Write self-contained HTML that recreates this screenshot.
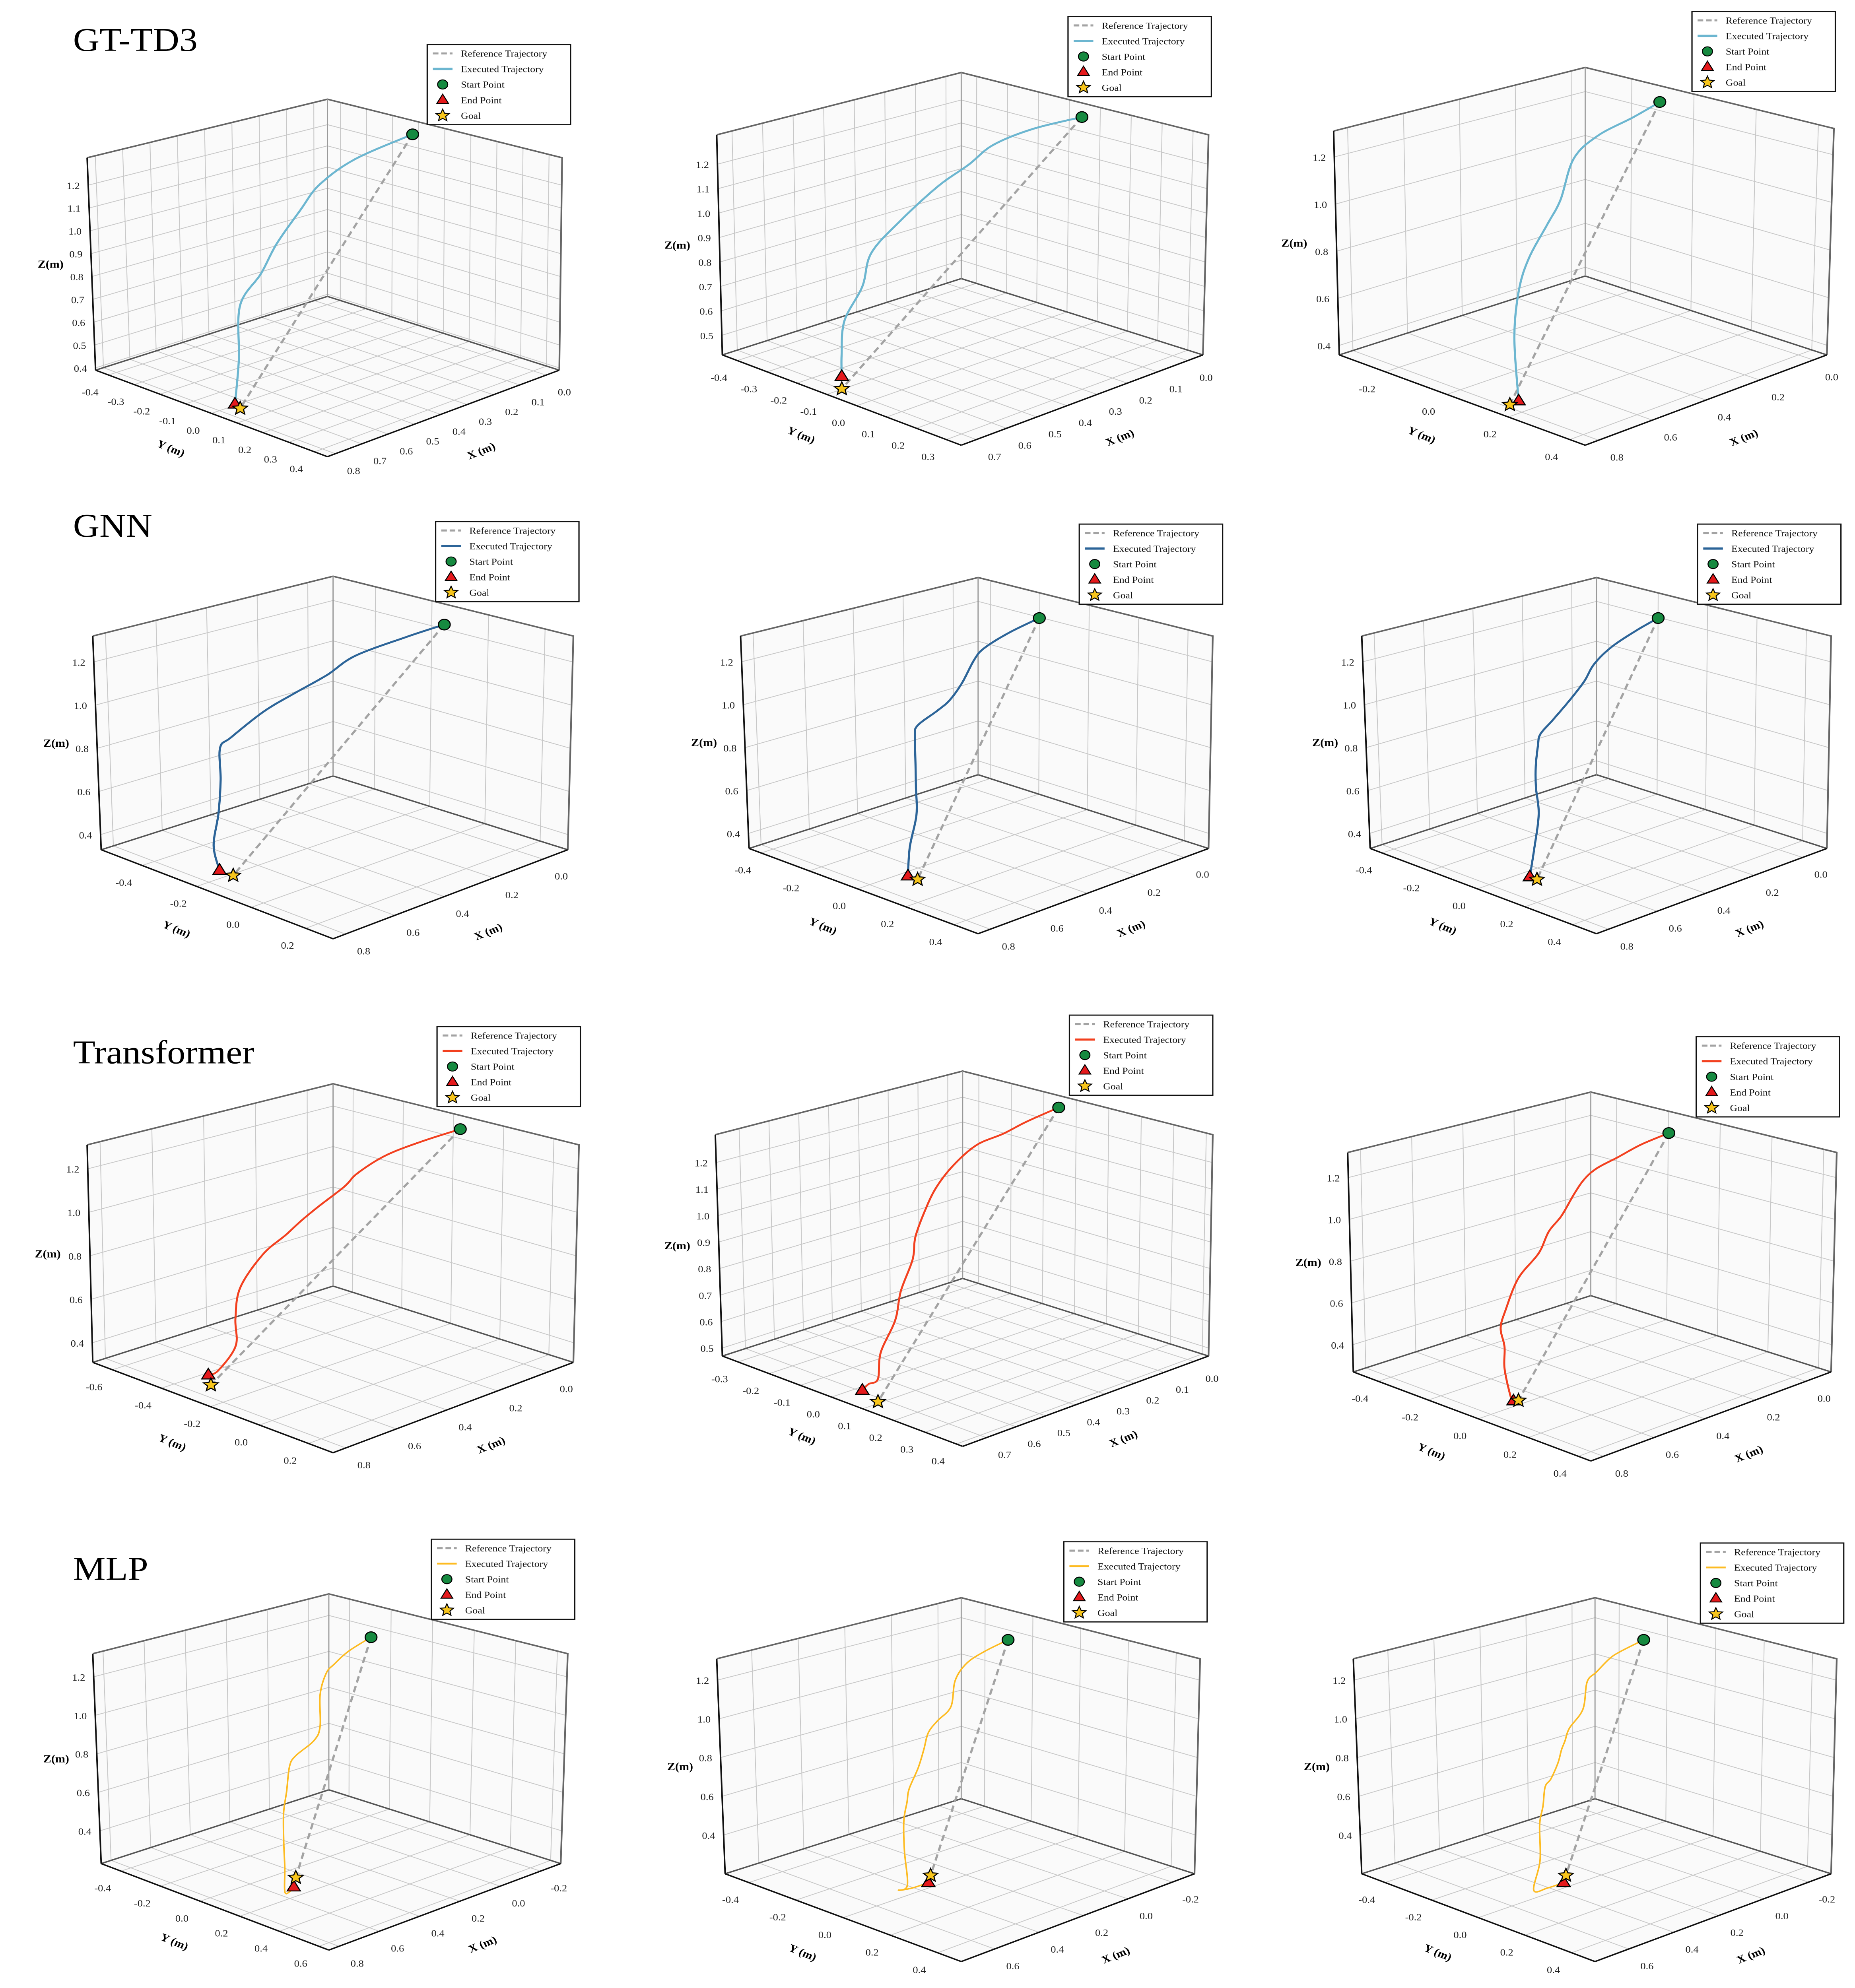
<!DOCTYPE html>
<html><head><meta charset="utf-8"><title>Trajectory comparison</title>
<style>html,body{margin:0;padding:0;background:#fff;width:100%;height:100%;overflow:hidden}
svg{display:block;position:fixed;left:0;top:0;width:100vw;height:100vh}
text{font-family:"Liberation Serif","DejaVu Serif",serif}</style></head>
<body>
<svg id="fig" xmlns="http://www.w3.org/2000/svg" viewBox="0 0 1320 1562.8" preserveAspectRatio="none">
<rect x="0" y="0" width="1320" height="1562.8" fill="#fff"/>
<text x="52" y="40" font-size="26">GT-TD3</text>
<text x="52" y="422" font-size="26">GNN</text>
<text x="52" y="836" font-size="26">Transformer</text>
<text x="52" y="1242" font-size="26">MLP</text>
<g id="plots"></g>
</svg>
<script>
// ---- data ----
const startX = [0.02, 0.01, 0.05, 0.03, 0.07, 0.07, -0.01, 0.02, 0.04, -0.02, -0.06, -0.06];
const startY = [-0.05, 0.0, -0.02, -0.04, -0.03, -0.03, -0.08, 0.01, -0.06, -0.02, -0.07, -0.07];
const startZ = [1.30, 1.30, 1.30, 1.30, 1.30, 1.30, 1.30, 1.30, 1.30, 1.30, 1.30, 1.30];
const goalX = [0.76, 0.71, 0.81, 0.80, 0.76, 0.76, 0.78, 0.76, 0.74, 0.58, 0.41, 0.41];
const goalY = [0.04, -0.09, 0.17, -0.11, 0.16, 0.16, -0.27, 0.13, 0.05, 0.21, 0.05, 0.05];
const goalZ = [0.40, 0.43, 0.38, 0.40, 0.40, 0.40, 0.35, 0.50, 0.33, 0.33, 0.30, 0.30];
const endX = [0.76, 0.70, 0.80, 0.80, 0.76, 0.76, 0.78, 0.76, 0.74, 0.58, 0.41, 0.41];
const endY = [0.02, -0.10, 0.19, -0.16, 0.12, 0.13, -0.28, 0.08, 0.03, 0.20, 0.04, 0.04];
const endZ = [0.41, 0.47, 0.40, 0.40, 0.40, 0.40, 0.39, 0.52, 0.32, 0.28, 0.26, 0.26];
const execX = [
 [0.02,0.26,0.41,0.49,0.59,0.66,0.75,0.76,0.76],
 [0.01,0.15,0.27,0.34,0.43,0.535,0.62,0.65,0.70,0.71,0.70],
 [0.05,0.19,0.35,0.47,0.54,0.61,0.70,0.76,0.79,0.80],
 [0.03,0.17,0.35,0.45,0.57,0.68,0.80,0.80,0.80,0.80,0.80,0.80],
 [0.07,0.23,0.37,0.43,0.50,0.57,0.64,0.74,0.76,0.76,0.76,0.76,0.76,0.76],
 [0.07,0.20,0.33,0.43,0.48,0.57,0.67,0.73,0.75,0.76,0.76,0.75,0.76,0.76],
 [-0.01,0.11,0.22,0.31,0.35,0.43,0.49,0.54,0.61,0.68,0.70,0.70,0.76,0.78],
 [0.02,0.15,0.25,0.35,0.45,0.52,0.57,0.60,0.62,0.66,0.69,0.75,0.76,0.76,0.76],
 [0.04,0.17,0.28,0.37,0.43,0.48,0.54,0.60,0.65,0.74,0.74,0.74,0.74,0.74,0.74,0.74],
 [-0.02,0.15,0.27,0.34,0.39,0.39,0.44,0.58,0.58,0.58,0.58,0.58,0.58,0.58,0.58,0.58],
 [-0.06,0.07,0.18,0.25,0.28,0.36,0.41,0.41,0.41,0.41,0.41,0.41,0.41,0.41,0.45,0.43,0.41],
 [-0.06,0.07,0.14,0.22,0.27,0.31,0.38,0.41,0.41,0.41,0.41,0.41,0.41,0.41,0.41,0.45,0.43,0.41]
];
const execY = [
 [-0.05,-0.02,0.0,0.01,0.02,0.03,0.04,0.04,0.02],
 [0.0,-0.02,-0.03,-0.04,-0.05,-0.07,-0.08,-0.08,-0.09,-0.09,-0.10],
 [-0.02,0.02,0.05,0.08,0.10,0.12,0.14,0.16,0.17,0.19],
 [-0.04,-0.05,-0.07,-0.08,-0.09,-0.10,-0.11,-0.15,-0.15,-0.16,-0.18,-0.16],
 [-0.03,0.01,0.05,0.07,0.09,0.11,0.13,0.15,0.16,0.16,0.16,0.16,0.13,0.12],
 [-0.03,0.01,0.04,0.07,0.08,0.11,0.14,0.15,0.16,0.16,0.16,0.16,0.15,0.13],
 [-0.08,-0.11,-0.14,-0.16,-0.17,-0.19,-0.20,-0.21,-0.23,-0.25,-0.25,-0.25,-0.26,-0.28],
 [0.01,0.03,0.05,0.06,0.08,0.09,0.10,0.10,0.11,0.11,0.12,0.13,0.13,0.10,0.08],
 [-0.06,-0.04,-0.02,-0.01,0.0,0.01,0.02,0.03,0.04,0.05,0.0,-0.02,-0.005,-0.005,0.02,0.03],
 [-0.02,0.04,0.09,0.12,0.14,0.14,0.16,0.21,0.18,0.165,0.15,0.15,0.155,0.155,0.18,0.20],
 [-0.07,-0.04,-0.01,0.01,0.02,0.04,0.05,0.03,0.005,-0.035,-0.045,-0.06,-0.06,-0.05,-0.05,-0.01,0.04],
 [-0.07,-0.04,-0.02,0.0,0.01,0.03,0.04,0.05,0.035,0.02,-0.01,-0.035,-0.045,-0.06,-0.06,-0.05,-0.01,0.04]
];
const execZ = [
 [1.30,1.27,1.21,1.13,1.02,0.92,0.82,0.60,0.41],
 [1.30,1.29,1.26,1.20,1.14,1.03,0.93,0.81,0.69,0.56,0.47],
 [1.30,1.29,1.27,1.22,1.08,1.01,0.91,0.81,0.64,0.40],
 [1.30,1.28,1.24,1.18,1.13,1.08,1.00,0.94,0.80,0.65,0.50,0.40],
 [1.30,1.29,1.27,1.24,1.16,1.11,1.09,1.06,1.02,0.89,0.80,0.68,0.53,0.40],
 [1.30,1.29,1.26,1.22,1.16,1.11,1.06,1.02,0.98,0.89,0.80,0.68,0.53,0.40],
 [1.30,1.27,1.23,1.17,1.12,1.05,1.00,0.95,0.88,0.75,0.62,0.50,0.41,0.39],
 [1.30,1.29,1.28,1.27,1.23,1.17,1.10,1.02,0.95,0.85,0.76,0.67,0.58,0.55,0.52],
 [1.30,1.29,1.27,1.25,1.22,1.17,1.09,1.04,0.96,0.88,0.72,0.63,0.55,0.45,0.33,0.32],
 [1.30,1.29,1.27,1.25,1.16,1.00,0.95,0.93,0.87,0.74,0.63,0.49,0.36,0.24,0.25,0.28],
 [1.30,1.29,1.27,1.21,1.09,1.05,1.01,0.92,0.82,0.70,0.63,0.53,0.38,0.21,0.20,0.22,0.26],
 [1.30,1.29,1.28,1.24,1.21,1.09,1.02,0.97,0.92,0.85,0.76,0.71,0.61,0.51,0.33,0.20,0.22,0.26]
];
const xTickLabels = [
 ["0.0","0.1","0.2","0.3","0.4","0.5","0.6","0.7","0.8"],
 ["0.0","0.1","0.2","0.3","0.4","0.5","0.6","0.7"],
 ["0.0","0.2","0.4","0.6","0.8"],
 ["0.0","0.2","0.4","0.6","0.8"],["0.0","0.2","0.4","0.6","0.8"],["0.0","0.2","0.4","0.6","0.8"],
 ["0.0","0.2","0.4","0.6","0.8"],
 ["0.0","0.1","0.2","0.3","0.4","0.5","0.6","0.7"],
 ["0.0","0.2","0.4","0.6","0.8"],
 ["-0.2","0.0","0.2","0.4","0.6","0.8"],
 ["-0.2","0.0","0.2","0.4","0.6"],["-0.2","0.0","0.2","0.4","0.6"]
];
const yTickLabels = [
 ["-0.4","-0.3","-0.2","-0.1","0.0","0.1","0.2","0.3","0.4"],
 ["-0.4","-0.3","-0.2","-0.1","0.0","0.1","0.2","0.3"],
 ["-0.2","0.0","0.2","0.4"],
 ["-0.4","-0.2","0.0","0.2"],
 ["-0.4","-0.2","0.0","0.2","0.4"],["-0.4","-0.2","0.0","0.2","0.4"],
 ["-0.6","-0.4","-0.2","0.0","0.2"],
 ["-0.3","-0.2","-0.1","0.0","0.1","0.2","0.3","0.4"],
 ["-0.4","-0.2","0.0","0.2","0.4"],
 ["-0.4","-0.2","0.0","0.2","0.4","0.6"],
 ["-0.4","-0.2","0.0","0.2","0.4"],["-0.4","-0.2","0.0","0.2","0.4"]
];
const zTickLabels = [
 ["0.4","0.5","0.6","0.7","0.8","0.9","1.0","1.1","1.2"],
 ["0.5","0.6","0.7","0.8","0.9","1.0","1.1","1.2"],
 ["0.4","0.6","0.8","1.0","1.2"],
 ["0.4","0.6","0.8","1.0","1.2"],["0.4","0.6","0.8","1.0","1.2"],["0.4","0.6","0.8","1.0","1.2"],
 ["0.4","0.6","0.8","1.0","1.2"],
 ["0.5","0.6","0.7","0.8","0.9","1.0","1.1","1.2"],
 ["0.4","0.6","0.8","1.0","1.2"],
 ["0.4","0.6","0.8","1.0","1.2"],["0.4","0.6","0.8","1.0","1.2"],["0.4","0.6","0.8","1.0","1.2"]
];
// ---- axis config (ranges & layout) ----
const xRange = [[-0.05,0.83],[-0.05,0.75],[-0.05,0.85],[-0.1,0.85],[-0.1,0.85],[-0.1,0.85],[-0.1,0.85],[-0.05,0.78],[-0.1,0.85],[-0.3,0.85],[-0.3,0.75],[-0.3,0.75]];
const yRange = [[-0.45,0.45],[-0.45,0.35],[-0.35,0.45],[-0.55,0.3],[-0.45,0.5],[-0.45,0.5],[-0.68,0.3],[-0.35,0.42],[-0.5,0.45],[-0.5,0.65],[-0.5,0.5],[-0.5,0.5]];
const zRange = [[0.39,1.32],[0.42,1.32],[0.36,1.31],[0.33,1.32],[0.33,1.32],[0.33,1.32],[0.31,1.31],[0.47,1.305],[0.27,1.32],[0.23,1.32],[0.20,1.31],[0.20,1.31]];
const boxes = [
 {B:[233,233],L:[68,291],R:[398,291],F:[233,359],Bt:[233,78],Lt:[62,124],Rt:[400,124]},
 {B:[684,219],L:[514,279],R:[856,279],F:[684,350],Bt:[684,57],Lt:[510,106],Rt:[860,106]},
 {B:[1128,217],L:[953,279],R:[1300,279],F:[1128,350],Bt:[1128,53],Lt:[949,103],Rt:[1305,101]},
 {B:[237,610],L:[72,668],R:[404,668],F:[237,738],Bt:[237,453],Lt:[66,500],Rt:[408,500]},
 {B:[696,609],L:[533,667],R:[860,667],F:[696,734],Bt:[696,454],Lt:[527,500],Rt:[863,500]},
 {B:[1136,609],L:[975,667],R:[1300,667],F:[1136,734],Bt:[1136,454],Lt:[969,500],Rt:[1303,500]},
 {B:[237,1011],L:[66,1071],R:[408,1071],F:[237,1142],Bt:[237,852],Lt:[62,900],Rt:[412,900]},
 {B:[685,1005],L:[514,1066],R:[860,1066],F:[685,1137],Bt:[685,842],Lt:[509,892],Rt:[863,892]},
 {B:[1132,1018.5],L:[963,1078.5],R:[1303,1078.5],F:[1132,1148.5],Bt:[1132,858.5],Lt:[959,906],Rt:[1307,906]},
 {B:[234,1407],L:[72,1465],R:[399,1465],F:[234,1533],Bt:[234,1253],Lt:[66,1300],Rt:[404,1300]},
 {B:[684,1414],L:[516,1473],R:[850,1473],F:[684,1542],Bt:[684,1256],Lt:[510,1304],Rt:[854,1304]},
 {B:[1135,1414],L:[969,1473],R:[1303,1473],F:[1135,1542],Bt:[1135,1256],Lt:[963,1304],Rt:[1307,1304]}
];
const legendBoxes = [[304,35],[760,13],[1204,9],[310,410],[768,412],[1208,412],[311,807],[761,798],[1207,815],[307,1210],[757,1212],[1210,1213]];
const rowColors = ["#6cb6d0","#2c6498","#f2401f","#fdbb21"];
const rowWidths = [1.5,1.5,1.4,1.1];

const NS = "http://www.w3.org/2000/svg";
const root = document.getElementById('plots');
function mk(tag, attrs, parent){ const e=document.createElementNS(NS,tag); for(const k in attrs) e.setAttribute(k,attrs[k]); (parent||root).appendChild(e); return e; }
function lerp2(P00,P10,P01,P11,s,t){ return [P00[0]*(1-s)*(1-t)+P10[0]*s*(1-t)+P01[0]*(1-s)*t+P11[0]*s*t, P00[1]*(1-s)*(1-t)+P10[1]*s*(1-t)+P01[1]*(1-s)*t+P11[1]*s*t]; }
function proj(i,x,y,z){
  const b=boxes[i];
  const s=(x-xRange[i][0])/(xRange[i][1]-xRange[i][0]);
  const t=(y-yRange[i][0])/(yRange[i][1]-yRange[i][0]);
  const u=(z-zRange[i][0])/(zRange[i][1]-zRange[i][0]);
  const Ft=[b.Lt[0]+b.Rt[0]-b.Bt[0], b.Lt[1]+b.Rt[1]-b.Bt[1]];
  const f=lerp2(b.B,b.L,b.R,b.F,s,t), tp=lerp2(b.Bt,b.Lt,b.Rt,Ft,s,t);
  return [f[0]+u*(tp[0]-f[0]), f[1]+u*(tp[1]-f[1])];
}
function pts(arr){ return arr.map(p=>p[0].toFixed(2)+','+p[1].toFixed(2)).join(' '); }
function smoothPath(p){
  let d='M'+p[0][0].toFixed(2)+','+p[0][1].toFixed(2);
  for(let k=0;k<p.length-1;k++){
    const p0=p[k-1]||p[k], p1=p[k], p2=p[k+1], p3=p[k+2]||p2;
    const c1=[p1[0]+(p2[0]-p0[0])/6, p1[1]+(p2[1]-p0[1])/6];
    const c2=[p2[0]-(p3[0]-p1[0])/6, p2[1]-(p3[1]-p1[1])/6];
    d+=' C'+c1[0].toFixed(2)+','+c1[1].toFixed(2)+' '+c2[0].toFixed(2)+','+c2[1].toFixed(2)+' '+p2[0].toFixed(2)+','+p2[1].toFixed(2);
  }
  return d;
}
function starPts(cx,cy,r){ const a=[]; for(let k=0;k<10;k++){const rr=k%2?r*0.45:r; const ang=-Math.PI/2+k*Math.PI/5; a.push([cx+rr*Math.cos(ang),cy+rr*Math.sin(ang)]);} return pts(a); }
function triPts(cx,cy,r){ return pts([[cx,cy-r],[cx+r*0.9,cy+r*0.6],[cx-r*0.9,cy+r*0.6]]); }

for(let i=0;i<12;i++){
  const row=Math.floor(i/3), b=boxes[i];
  const g=mk('g',{});
  
  
  const x0=xRange[i][0],x1=xRange[i][1],y0=yRange[i][0],y1=yRange[i][1],z0=zRange[i][0],z1=zRange[i][1];
  const pf=mk('polygon',{points:pts([b.B,b.L,b.F,b.R]),fill:'#fafafa',stroke:'none'},g);
   
  const pl=mk('polygon',{points:pts([b.B,b.L,b.Lt,b.Bt]),fill:'#fafafa',stroke:'none'},g);
   
  const pr=mk('polygon',{points:pts([b.B,b.R,b.Rt,b.Bt]),fill:'#fafafa',stroke:'none'},g);
   
  const grid=mk('g',{stroke:'#c8c8c8','stroke-width':0.6,fill:'none'},g);
   
  const xt=xTickLabels[i].map(Number), yt=yTickLabels[i].map(Number), zt=zTickLabels[i].map(Number);
  xt.forEach(x=>{ mk('polyline',{points:pts([proj(i,x,y0,z0),proj(i,x,y1,z0)])},grid); mk('polyline',{points:pts([proj(i,x,y0,z0),proj(i,x,y0,z1)])},grid); });
  yt.forEach(y=>{ mk('polyline',{points:pts([proj(i,x0,y,z0),proj(i,x1,y,z0)])},grid); mk('polyline',{points:pts([proj(i,x0,y,z0),proj(i,x0,y,z1)])},grid); });
  zt.forEach(z=>{ mk('polyline',{points:pts([proj(i,x1,y0,z),proj(i,x0,y0,z),proj(i,x0,y1,z)])},grid); });
  const eg=mk('polyline',{points:pts([b.Lt,b.Bt,b.Rt,b.R]),fill:'none',stroke:'#666','stroke-width':1.2},g);
   
  const eb=mk('polyline',{points:pts([b.L,b.B,b.R]),fill:'none',stroke:'#555','stroke-width':1.1},g);
   
  const ev=mk('line',{x1:b.B[0],y1:b.B[1],x2:b.Bt[0],y2:b.Bt[1],stroke:'#999','stroke-width':0.8},g);
   
  const ya=mk('line',{x1:b.L[0],y1:b.L[1],x2:b.F[0],y2:b.F[1],stroke:'#111','stroke-width':1.1},g);
   
  const xa=mk('line',{x1:b.F[0],y1:b.F[1],x2:b.R[0],y2:b.R[1],stroke:'#111','stroke-width':1.1},g);
   
  const za=mk('line',{x1:b.L[0],y1:b.L[1],x2:b.Lt[0],y2:b.Lt[1],stroke:'#111','stroke-width':1.1},g);
   
  xTickLabels[i].forEach((lab,k)=>{ const p=proj(i,xt[k],y1,z0);
    const t=mk('text',{x:p[0]+13,y:p[1]+16,'font-size':7.5,'text-anchor':'middle',fill:'#222'},g); t.textContent=lab;
      });
  yTickLabels[i].forEach((lab,k)=>{ const p=proj(i,x1,yt[k],z0);
    const t=mk('text',{x:p[0]-13,y:p[1]+16,'font-size':7.5,'text-anchor':'middle',fill:'#222'},g); t.textContent=lab;
      });
  zTickLabels[i].forEach((lab,k)=>{ const p=proj(i,x1,y0,zt[k]);
    const t=mk('text',{x:p[0]-6,y:p[1]+3,'font-size':7.5,'text-anchor':'end',fill:'#222'},g); t.textContent=lab;
      });
  const ym=[(b.L[0]+b.F[0])/2-30,(b.L[1]+b.F[1])/2+30];
  const yl=mk('text',{x:ym[0],y:ym[1],'font-size':8.5,'font-weight':'bold','text-anchor':'middle',transform:'rotate(24 '+ym[0]+' '+ym[1]+')'},g);
  yl.textContent='Y (m)';  
  const xm=[(b.F[0]+b.R[0])/2+28,(b.F[1]+b.R[1])/2+32];
  const xl=mk('text',{x:xm[0],y:xm[1],'font-size':8.5,'font-weight':'bold','text-anchor':'middle',transform:'rotate(-24 '+xm[0]+' '+xm[1]+')'},g);
  xl.textContent='X (m)';  
  const zl=mk('text',{x:b.L[0]-32,y:(b.L[1]+b.Lt[1])/2+3,'font-size':8.5,'font-weight':'bold','text-anchor':'middle'},g);
  zl.textContent='Z(m)';  
  const ps=proj(i,startX[i],startY[i],startZ[i]), pg=proj(i,goalX[i],goalY[i],goalZ[i]), pe=proj(i,endX[i],endY[i],endZ[i]);
  const ref=mk('line',{x1:ps[0],y1:ps[1],x2:pg[0],y2:pg[1],stroke:'#a3a3a3','stroke-width':1.6,'stroke-dasharray':'5 3'},g);
   
  const ep=execX[i].map((x,k)=>proj(i,x,execY[i][k],execZ[i][k]));
  const ex=mk('path',{d:smoothPath(ep),fill:'none',stroke:rowColors[row],'stroke-width':rowWidths[row],'stroke-linejoin':'round'},g);
   
  const sm=mk('circle',{cx:ps[0],cy:ps[1],r:4.2,fill:'#168a40',stroke:'#000','stroke-width':0.8},g);
   
  const em=mk('polygon',{points:triPts(pe[0],pe[1],5.2),fill:'#e5191c',stroke:'#000','stroke-width':0.8},g);
   
  const gm=mk('polygon',{points:starPts(pg[0],pg[1],5.5),fill:'#f7c51c',stroke:'#000','stroke-width':0.8},g);
   
  const lx=legendBoxes[i][0], ly=legendBoxes[i][1];
  const lg=mk('g',{},g);  
  mk('rect',{x:lx,y:ly,width:102,height:63,fill:'#fff',stroke:'#111','stroke-width':0.9},lg);
  const labels=['Reference Trajectory','Executed Trajectory','Start Point','End Point','Goal'];
  labels.forEach((lab,k)=>{ const cy=ly+7+k*12.2;
    const entry=mk('g',{},lg);  
    if(k===0) mk('line',{x1:lx+4,y1:cy,x2:lx+18,y2:cy,stroke:'#a3a3a3','stroke-width':1.6,'stroke-dasharray':'4 2'},entry);
    if(k===1) mk('line',{x1:lx+4,y1:cy,x2:lx+18,y2:cy,stroke:rowColors[row],'stroke-width':rowWidths[row]+0.3},entry);
    if(k===2) mk('circle',{cx:lx+11,cy:cy,r:3.6,fill:'#168a40',stroke:'#000','stroke-width':0.7},entry);
    if(k===3) mk('polygon',{points:triPts(lx+11,cy,4.6),fill:'#e5191c',stroke:'#000','stroke-width':0.7},entry);
    if(k===4) mk('polygon',{points:starPts(lx+11,cy,5),fill:'#f7c51c',stroke:'#000','stroke-width':0.7},entry);
    const t=mk('text',{x:lx+24,y:cy+2.6,'font-size':7.3,fill:'#111'},entry); t.textContent=lab;
  });
}
</script>
</body></html>
